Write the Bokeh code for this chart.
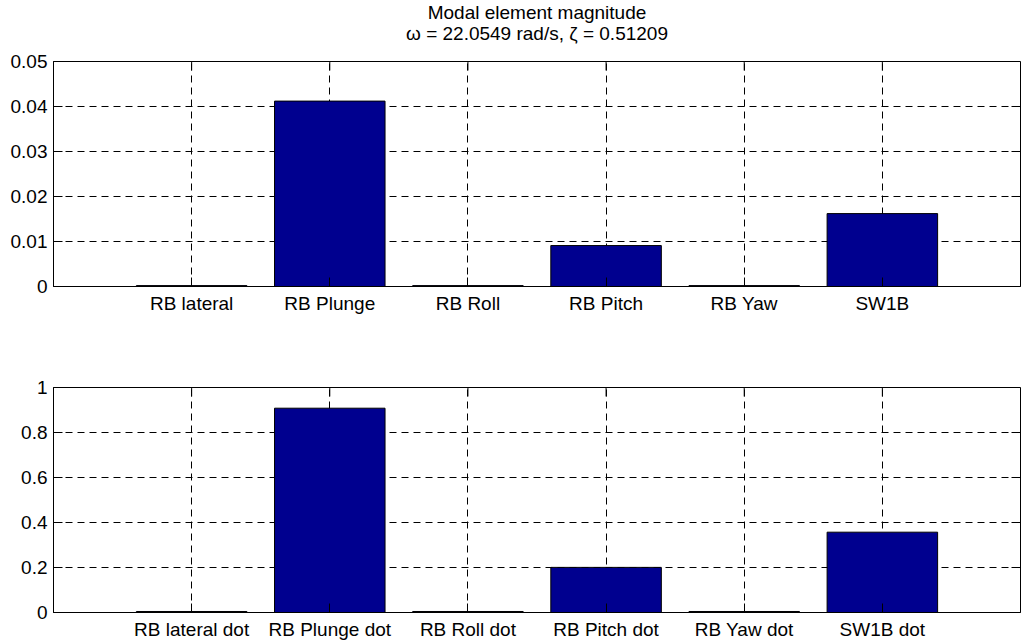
import math

from bokeh.plotting import figure
from bokeh.layouts import column
from bokeh.models import FixedTicker, LinearAxis, Range1d, Title
from bokeh.embed import file_html
from bokeh.resources import INLINE

# Modal states and their magnitudes
states = ["RB lateral", "RB Plunge", "RB Roll", "RB Pitch", "RB Yaw", "SW1B"]
rate_states = ["RB lateral dot", "RB Plunge dot", "RB Roll dot",
               "RB Pitch dot", "RB Yaw dot", "SW1B dot"]
mag = [0.0002, 0.0412, 0.0002, 0.0091, 0.0002, 0.0162]
rate_mag = [0.0045, 0.908, 0.0045, 0.2005, 0.0045, 0.357]

top_ticks = [0, 0.01, 0.02, 0.03, 0.04, 0.05]
top_tick_labels = ["0", "0.01", "0.02", "0.03", "0.04", "0.05"]
bot_ticks = [0, 0.2, 0.4, 0.6, 0.8, 1.0]
bot_tick_labels = ["0", "0.2", "0.4", "0.6", "0.8", "1"]

title_main = "Modal element magnitude"
title_sub = "\u03c9 = 22.0549 rad/s, \u03b6 = 0.51209"

FONT = "Liberation Sans"
FS = "19px"
BAR = "#00008F"
TICK_LEN = 9
FRAME_W, FRAME_H = 967, 225


def bar_panel(labels, values, yticks, ylabels, ymax, border_top, border_bottom):
    xs = list(range(1, len(labels) + 1))
    xmax = len(labels) + 1
    p = figure(frame_width=FRAME_W, frame_height=FRAME_H,
               min_border_left=53, min_border_right=1,
               min_border_top=border_top, min_border_bottom=border_bottom,
               x_range=Range1d(0, xmax), y_range=Range1d(0, ymax),
               output_backend="svg", toolbar_location=None)
    p.outline_line_color = "black"
    p.outline_line_alpha = 1.0
    p.background_fill_color = "white"
    p.border_fill_color = "white"

    p.vbar(x=xs, top=values, width=0.8, bottom=0,
           fill_color=BAR, line_color="black", line_width=1)

    xt = FixedTicker(ticks=xs)
    yt = FixedTicker(ticks=yticks)

    xa = p.xaxis[0]
    xa.ticker = xt
    xa.major_label_overrides = {x: l for x, l in zip(xs, labels)}
    ya = p.yaxis[0]
    ya.ticker = yt
    ya.major_label_overrides = {t: l for t, l in zip(yticks, ylabels)}

    for ax in (xa, ya):
        ax.minor_tick_line_color = None
        ax.major_tick_in = TICK_LEN
        ax.major_tick_out = 0
        ax.major_tick_line_color = "black"
        ax.axis_line_color = "black"
        ax.major_label_text_font = FONT
        ax.major_label_text_font_size = FS
        ax.major_label_text_color = "black"
    xa.major_label_standoff = 6
    ya.major_label_standoff = 6

    # inward tick marks along the top and right edges of the box
    p.ray(x=[xmax] * len(yticks), y=yticks, length=TICK_LEN, length_units="screen",
          angle=math.pi, line_color="black", line_width=1)
    p.ray(x=xs, y=[ymax] * len(xs), length=TICK_LEN, length_units="screen",
          angle=-math.pi / 2, line_color="black", line_width=1)

    p.xgrid.ticker = xt
    p.ygrid.ticker = yt
    for g in (p.xgrid[0], p.ygrid[0]):
        g.grid_line_color = "black"
        g.grid_line_dash = "7 5"
        g.grid_line_width = 1
    return p


p1 = bar_panel(states, mag, top_ticks, top_tick_labels, 0.05, 61, 49)

# second heading line carried by a tickless top axis, first line by the title
head = LinearAxis(ticker=FixedTicker(ticks=[]), axis_label=title_sub,
                  axis_line_color=None, major_tick_out=0, major_tick_in=0,
                  minor_tick_line_color=None, major_label_standoff=0,
                  axis_label_standoff=18, axis_label_text_font=FONT,
                  axis_label_text_font_size=FS, axis_label_text_font_style="normal",
                  axis_label_text_color="black")
p1.add_layout(head, "above")
p1.add_layout(Title(text=title_main, align="center", text_font=FONT,
                    text_font_size=FS, text_font_style="normal",
                    text_color="black", standoff=-7), "above")

p2 = bar_panel(rate_states, rate_mag, bot_ticks, bot_tick_labels, 1.0, 52, 32)

layout = column(p1, p2, spacing=0)
open("out.html", "w").write(file_html(layout, INLINE))
